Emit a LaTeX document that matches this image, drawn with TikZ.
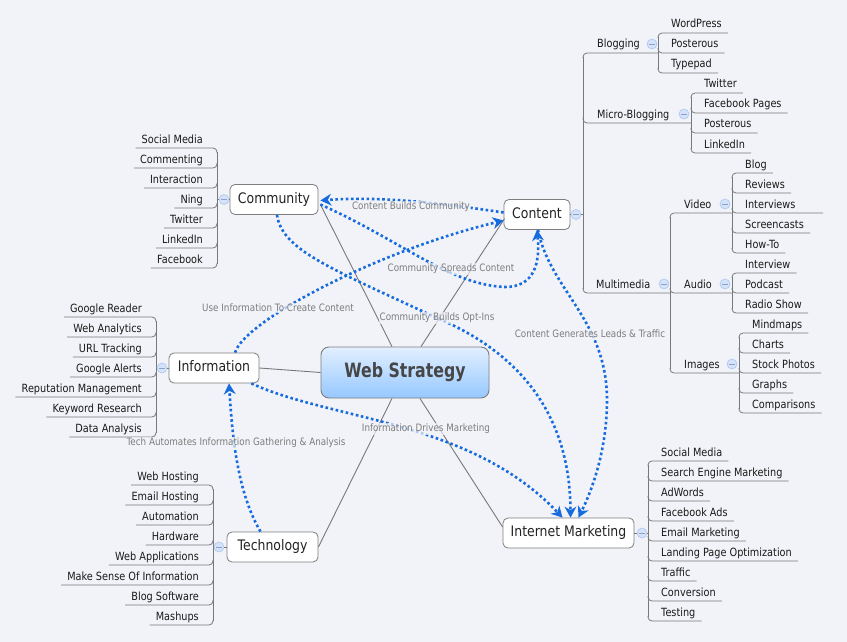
\documentclass[tikz,border=0pt]{standalone}
\usepackage{fontspec}
\setmainfont{DejaVu Sans}
\newfontfamily\xm[FakeStretch=0.86]{DejaVu Sans}
\newfontfamily\xmc[FakeStretch=0.8]{DejaVu Sans}
\usetikzlibrary{arrows.meta,calc}
\definecolor{bgc}{RGB}{242,243,248}
\definecolor{boxgray}{RGB}{125,125,125}
\definecolor{lgray}{RGB}{120,120,120}
\definecolor{relblue}{RGB}{22,108,222}
\definecolor{itemtext}{RGB}{25,25,25}
\definecolor{topictext}{RGB}{35,35,35}
\definecolor{labgray}{RGB}{125,125,125}
\definecolor{wstext}{RGB}{70,70,70}
\definecolor{wstop}{RGB}{226,239,255}
\definecolor{wsbot}{RGB}{150,200,255}
\definecolor{togfill}{RGB}{212,226,250}
\definecolor{togdraw}{RGB}{172,198,238}
\definecolor{togmc}{RGB}{140,160,200}
\tikzset{
  topic/.style={draw=boxgray, fill=white, rounded corners=5pt, line width=0.8pt,
    font=\xm\fontsize{14.5}{17}\selectfont, text=topictext, inner sep=0pt,
    minimum height=30pt, text height=10.5pt, text depth=3pt},
  item/.style={font=\xm\fontsize{11.3}{13}\selectfont, text=itemtext, inner sep=0pt},
  br/.style={draw=lgray, line width=0.8pt, rounded corners=4pt},
  conn/.style={draw=lgray, line width=0.9pt},
  relline/.style={draw=relblue, line width=2.6pt, dash pattern=on 2.6pt off 2.6pt},
  rel/.style={relline, -{Stealth[length=11pt,width=12pt,inset=3.5pt,line width=0pt]}},
  rlab/.style={font=\xm\fontsize{10.2}{12}\selectfont, text=labgray, fill=bgc,
    fill opacity=0.7, text opacity=1, inner sep=1pt},
  tog/.style={circle, draw=togdraw, fill=togfill, minimum size=10pt, inner sep=0pt, line width=0.6pt},
  togm/.style={draw=togmc, line width=0.8pt}
}
\newcommand\togc[3]{\node[tog] (#1) at (#2,#3) {};
  \draw[togm] ($(#1.center)+(-2.6,0)$) -- ($(#1.center)+(2.6,0)$);}
\newcommand\rlist[5]{%
  \foreach \t/\e [count=\i] in {#5} {
    \pgfmathsetmacro\yy{#4+20*(\i-1)}
    \node[item, anchor=base west] (#1\i) at (#3,\yy+4) {\t};
    \ifdim\e pt=0pt
      \coordinate (#1e\i) at ($(#1\i.base east)+(6,5)$);
    \else
      \coordinate (#1e\i) at (\e,\yy+9);
    \fi
    \pgfmathsetmacro\dd{\i==1 ? 5 : -5}
    \draw[br] (#2,\yy+9+\dd) -- (#2,\yy+9) -- (#1e\i);
    \xdef\lastn{\i}
  }
  \draw[br, rounded corners=0pt] (#2,#4+13) -- (#2,#4+20*\lastn-15);
}
\newcommand\llist[5]{%
  \foreach \t/\e [count=\i] in {#5} {
    \pgfmathsetmacro\yy{#4+20*(\i-1)}
    \node[item, anchor=base east] (#1\i) at (#3,\yy+4) {\t};
    \coordinate (#1e\i) at ($(#1\i.base west)+(-6,5)$);
    \pgfmathsetmacro\dd{\i==1 ? 5 : -5}
    \draw[br] (#2,\yy+9+\dd) -- (#2,\yy+9) -- (#1e\i);
    \xdef\lastn{\i}
  }
  \draw[br, rounded corners=0pt] (#2,#4+13) -- (#2,#4+20*\lastn-15);
}
\begin{document}
\begin{tikzpicture}[x=1pt,y=-1pt]
\fill[bgc] (0,0) rectangle (847,642);
\useasboundingbox (0,0) rectangle (847,642);

% central and main topics
\node[draw=boxgray, line width=0.9pt, rounded corners=8pt, top color=wstop, bottom color=wsbot,
  minimum width=168pt, minimum height=51pt, inner sep=0pt,
  font=\xmc\bfseries\fontsize{19.7}{22}\selectfont, text=wstext] (ws) at (405,372.5) {Web Strategy};
\node[topic, minimum width=88pt] (cm) at (274,199.5) {Community};
\node[topic, minimum width=66pt] (ct) at (537,214.5) {Content};
\node[topic, minimum width=90pt] (info) at (214,368) {Information};
\node[topic, minimum width=91pt] (tech) at (272.5,547) {Technology};
\node[topic, minimum width=131pt] (imk) at (568.5,533) {Internet Marketing};

% gray connectors from centre
\draw[conn] ($(ws.north)+(-13,0)$) -- ($(cm.east)+(2,5)$);
\draw[conn] ($(ws.north)+(16,0)$) -- ($(ct.west)+(1,4)$);
\draw[conn] (ws.west) -- (info.east);
\draw[conn] ($(ws.south)+(-13,0)$) -- (tech.east);
\draw[conn] ($(ws.south)+(15,0)$) -- ($(imk.west)+(0,-6)$);

% Community list
\llist{cmi}{217}{203}{139}{Social Media/0, Commenting/0, Interaction/0, Ning/0, Twitter/0, LinkedIn/0, Facebook/0}
% Information list
\llist{inf}{156}{142}{308}{Google Reader/0, Web Analytics/0, URL Tracking/0, Google Alerts/0, Reputation Management/0, Keyword Research/0, Data Analysis/0}
% Technology list
\llist{tcl}{213}{199}{476}{Web Hosting/0, Email Hosting/0, Automation/0, Hardware/0, Web Applications/0, Make Sense Of Information/0, Blog Software/0, Mashups/0}
% Internet marketing list
\rlist{mk}{648}{661}{452}{Social Media/0, Search Engine Marketing/0, AdWords/0, Facebook Ads/0, Email Marketing/0, Landing Page Optimization/0, Traffic/0, Conversion/0, Testing/0}

% Content branch
\node[item, anchor=base west] (blogn) at (597,48) {Blogging};
\node[item, anchor=base west] (micro) at (597,118) {Micro-Blogging};
\node[item, anchor=base west] (multi) at (596,288) {Multimedia};
\draw[br] (583,58) -- (583,53) -- (658,53);
\draw[br] (583,118) -- (583,123) -- (691,123);
\draw[br] (583,288) -- (583,293) -- (670,293);
\draw[br, rounded corners=0pt] (583,57) -- (583,289);
\node[item, anchor=base west] (video) at (684,208) {Video};
\node[item, anchor=base west] (audio) at (684,288) {Audio};
\node[item, anchor=base west] (images) at (684,368) {Images};
\draw[br] (670,218) -- (670,213) -- (732,213);
\draw[br] (670,288) -- (670,293) -- (732,293);
\draw[br] (670,368) -- (670,373) -- (739,373);
\draw[br, rounded corners=0pt] (670,217) -- (670,369);
\rlist{bl}{658}{671}{24}{WordPress/0, Posterous/0, Typepad/0}
\rlist{mb}{691}{704}{84}{Twitter/0, Facebook Pages/0, Posterous/0, LinkedIn/0}
\rlist{vd}{732}{745}{164}{Blog/0, Reviews/0, Interviews/823, Screencasts/0, How-To/0}
\rlist{au}{732}{745}{264}{Interview/0, Podcast/0, Radio Show/0}
\rlist{ig}{739}{752}{324}{Mindmaps/0, Charts/0, Stock Photos/0, Graphs/0, Comparisons/0}

% collapse toggles
\togc{cmt}{224}{199.5}
\draw[conn] (cm.west) -- (cmt.east); \draw[conn] (cmt.west) -- (217,199.5);
\togc{inft}{162}{368}
\draw[conn] (info.west) -- (inft.east); \draw[conn] (inft.west) -- (156,368);
\togc{tct}{219}{547}
\draw[conn] (tech.west) -- (tct.east); \draw[conn] (tct.west) -- (213,547);
\togc{ctt}{576}{214.5}
\draw[conn] (ct.east) -- (ctt.west); \draw[conn] (ctt.east) -- (583,214.5);
\togc{mkt}{642}{533}
\draw[conn] (imk.east) -- (mkt.west); \draw[conn] (mkt.east) -- (648,533);
\togc{blt}{652}{44}
\togc{mbt}{684}{114}
\togc{mmt}{664}{284}
\togc{vdt}{725}{204}
\togc{aut}{725}{284}
\togc{igt}{732}{364}

% relationships
\draw[rel] ($(ct.west)+(0,-2)$) .. controls (440,203) and (380,196) .. ($(cm.east)+(2,1)$);
\draw[rel] ($(cm.east)+(2,5)$) .. controls (400,240) and (450,285) .. (505,287)
   .. controls (535,287) and (540,262) .. (ct.south);
\draw[rel] ($(info.north)+(21,0)$) .. controls (245,320) and (380,250) .. ($(ct.west)+(0,6)$);
\draw[rel] ($(cm.south)+(3,0)$) .. controls (282,250) and (330,268) .. (437,318)
   .. controls (525,355) and (570,420) .. ($(imk.north)+(2,0)$);
\draw[rel] ($(ct.south)+(1,0)$) .. controls (550,290) and (607,320) .. (607,400)
   .. controls (607,450) and (592,490) .. ($(imk.north)+(10,0)$);
\draw[rel] ($(info.south east)+(-8,0)$) .. controls (330,420) and (470,420) .. ($(imk.north)+(-6,0)$);
\draw[rel] ($(tech.north)+(-12,0)$) .. controls (236,490) and (232,430) .. ($(info.south)+(15,0)$);

% relationship labels
\node[rlab] (l1) at (411,207) {Content Builds Community};
\node[rlab] (l2) at (451,269) {Community Spreads Content};
\node[rlab] (l3) at (278,308) {Use Information To Create Content};
\node[rlab] (l4) at (437,318) {Community Builds Opt-Ins};
\node[rlab] (l5) at (590,334) {Content Generates Leads \& Traffic};
\node[rlab] (l6) at (426,429) {Information Drives Marketing};
\node[rlab] (l7) at (236,443) {Tech Automates Information Gathering \& Analysis};
\end{tikzpicture}
\end{document}
